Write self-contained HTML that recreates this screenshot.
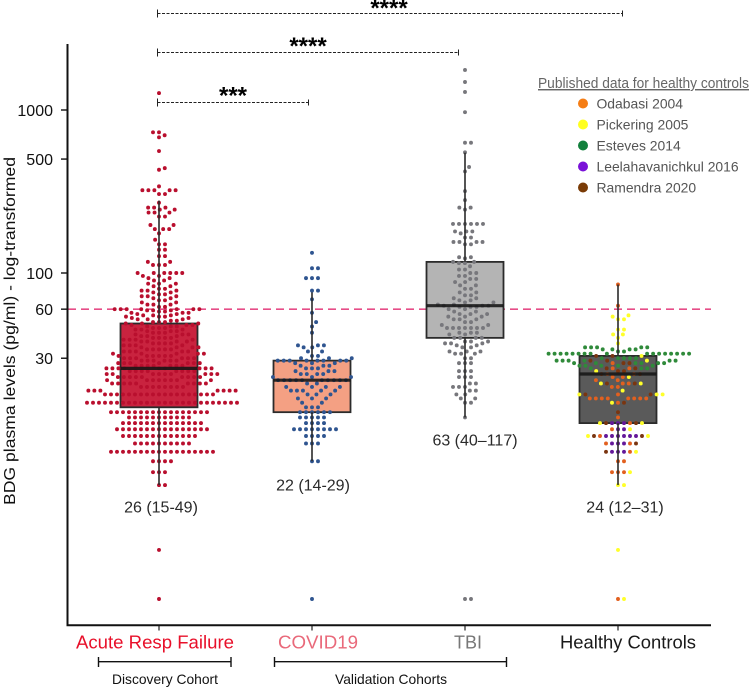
<!DOCTYPE html>
<html lang="en">
<head>
<meta charset="utf-8">
<title>BDG plasma levels by cohort</title>
<style>
html,body{margin:0;padding:0;background:#fff;width:750px;height:687px;overflow:hidden}
svg{display:block}
text{font-family:"Liberation Sans",Arial,sans-serif}
</style>
</head>
<body>
<svg id="chart" width="750" height="687" viewBox="0 0 750 687" xmlns="http://www.w3.org/2000/svg"></svg>
<script>
// ---- Data ----
const categories = ['Acute Resp Failure', 'COVID19', 'TBI', 'Healthy Controls'];
const categoryColors = ['#e8102a', '#e9697a', '#777777', '#1a1a1a'];
const summaryLabels = ['26 (15-49)', '22 (14-29)', '63 (40–117)', '24 (12–31)'];
const yTicks = [30, 60, 100, 500, 1000];
const thresholdValue = 60;

const boxQ1 = [15, 14, 40, 12];
const boxMedian = [26, 22, 63, 24];
const boxQ3 = [49, 29, 117, 31];
const whiskerLow = [5, 7, 13, 5];
const whiskerHigh = [278, 76, 547, 85];
const boxFills = ['#c9233f', '#f4a083', '#b4b4b4', '#5a5a5a'];

const arfLevels = [1,2,5,6,7,8,9,10,11,12,13,14,16,18,19,20,21,22,23,24,25,26,27,28,29,30,31,32,33,34,35,36,37,38,39,40,41,42,43,44,45,46,47,48,49,50,51,52,53,54,55,56,57,58,59,60,62,64,66,68,70,72,74,76,78,80,83,86,90,93,96,100,112,117,127,139,150,160,175,186,197,222,235,245,252,270,305,322,340,430,440,560,680,700,730,1270];
const arfCounts = [1,1,2,3,4,18,10,13,16,14,11,17,26,19,7,8,9,8,9,9,8,9,7,7,6,6,6,5,5,5,4,4,4,4,4,4,3,3,3,3,3,3,3,3,3,3,2,3,2,3,3,2,3,2,3,7,2,3,2,2,2,3,2,2,3,2,2,3,2,2,2,6,3,2,2,2,2,1,1,3,2,2,3,2,3,1,2,5,1,1,1,1,1,1,2,1];

const covidLevels = [1,7,9,10,11,12,13,14,15,16,17,18,19,20,21,22,23,24,25,26,27,28,29,30,31,33,35,36,43,47,50,57,69,78,93,107,133];
const covidCounts = [1,2,3,4,8,4,5,6,3,2,3,3,5,4,2,10,3,4,3,3,3,3,8,3,2,2,2,3,1,1,1,1,1,2,3,2,1];

const tbiLevels = [1,13,16,17,18,19,20,21,23,25,28,30,32,33,35,36,37,38,40,42,43,46,48,50,52,54,56,58,60,62,63,64,66,68,70,73,76,80,84,88,92,96,100,105,110,115,117,123,125,150,155,165,175,180,200,245,252,280,318,420,447,550,630,970,1290,1485,1760];
const tbiCounts = [2,1,2,2,2,2,3,2,3,3,3,2,3,3,2,2,3,3,4,2,3,7,2,2,3,3,3,2,2,3,3,2,2,2,2,2,2,2,2,2,2,2,2,2,1,2,2,1,2,2,4,2,1,3,6,1,2,1,1,1,1,1,2,1,1,1,1];

const leelahavanichkulLevels = [8,9,10,11,12];
const leelahavanichkulCounts = [3,3,6,2,3];
const odabasiLevels = [1,6,7,8,9,10,11,12,13,16,17,18,20,21,22,23,24,26,28,63,85];
const odabasiCounts = [1,3,2,1,2,1,1,1,1,1,8,1,2,2,2,2,2,2,1,1,1];
const estevesLevels = [26,27,28,29,30,32,33,34,35];
const estevesCounts = [3,5,6,6,5,17,2,4,5];
const ramendraLevels = [8,9,10,12,14,16,18,21,24,25,26,28,29,31];
const ramendraCounts = [1,1,2,2,1,1,2,2,2,2,2,2,2,2];
const pickeringLevels = [1,2,5,6,8,10,11,12,16,18,19,21,23,25,29,31,37,40,42,45,52,54,55];
const pickeringCounts = [1,1,2,1,1,2,1,2,1,3,1,2,1,1,1,1,1,1,2,2,2,1,1];

const legendTitle = 'Published data for healthy controls';
const legendLabels = ['Odabasi 2004', 'Pickering 2005', 'Esteves 2014', 'Leelahavanichkul 2016', 'Ramendra 2020'];
const legendColors = ['#f57d15', '#ffff1f', '#12803c', '#7a12d8', '#7a3b06'];

const sigLabels = ['***', '****', '****'];

// ---- Scales ----
function yScale(v) { return 110 + 163 * (3 - Math.log10(v)); }
function xBand(i) { return 159 + 153 * i; }

// ---- Helpers ----
const svg = document.getElementById('chart');
const NS = 'http://www.w3.org/2000/svg';
function mk(tag, attrs, parent) {
  const el = document.createElementNS(NS, tag);
  for (const k in attrs) el.setAttribute(k, attrs[k]);
  (parent || svg).appendChild(el);
  return el;
}
function expand(levels, counts, color, rank) {
  const out = [];
  levels.forEach(function (v, i) {
    for (let c = 0; c < counts[i]; c++) out.push({ v: v, color: color, rank: rank });
  });
  return out;
}
// Beeswarm placement computed from the values
function swarm(points) {
  const D = 6, MINDY = 4.6;
  const sorted = points.slice().sort(function (a, b) { return a.v - b.v || a.rank - b.rank; });
  const placed = [];
  sorted.forEach(function (p) {
    p.y = yScale(p.v);
    const near = placed.filter(function (q) { return Math.abs(q.y - p.y) < MINDY; });
    const cands = [0];
    near.forEach(function (q) {
      const dy = q.y - p.y;
      const dx = Math.sqrt(D * D - dy * dy);
      cands.push(q.off + dx, q.off - dx);
    });
    cands.sort(function (a, b) {
      const d = Math.abs(a) - Math.abs(b);
      return Math.abs(d) > 1e-6 ? d : b - a;
    });
    for (let i = 0; i < cands.length; i++) {
      const c = cands[i];
      const ok = near.every(function (q) {
        const dx = q.off - c, dy = q.y - p.y;
        return dx * dx + dy * dy >= D * D - 1e-6;
      });
      if (ok) { p.off = c; break; }
    }
    placed.push(p);
  });
  return placed;
}

// ---- Threshold line (behind) ----
const threshold = mk('line', { x1: 68, x2: 711, y1: yScale(thresholdValue), y2: yScale(thresholdValue), stroke: '#e64d88', 'stroke-width': 1.6, 'stroke-dasharray': '8 5' });



// ---- Groups ----
const groupPoints = [
  expand(arfLevels, arfCounts, '#b90f2e', 0),
  expand(covidLevels, covidCounts, '#2f5590', 0),
  expand(tbiLevels, tbiCounts, '#77777c', 0),
  [].concat(
    expand(leelahavanichkulLevels, leelahavanichkulCounts, '#64189a', 0),
    expand(odabasiLevels, odabasiCounts, '#e2601f', 1),
    expand(ramendraLevels, ramendraCounts, '#7a3510', 2),
    expand(pickeringLevels, pickeringCounts, '#ffff2a', 3),
    expand(estevesLevels, estevesCounts, '#2f8a3a', 4)
  )
];

categories.forEach(function (cat, i) {
  const cx = xBand(i);
  const top = yScale(boxQ3[i]), bot = yScale(boxQ1[i]);
  const box = mk('rect', { x: cx - 38.5, y: top, width: 77, height: bot - top, fill: boxFills[i], stroke: '#2b2b2b', 'stroke-width': 1.8 });
  
  

  const g = mk('g', {});
  
  
  swarm(groupPoints[i]).forEach(function (p) {
    const dot = mk('circle', { cx: cx + p.off, cy: p.y, r: 1.95, fill: p.color }, g);
    
    
  });

  const whiskerTop = mk('line', { x1: cx, x2: cx, y1: yScale(whiskerHigh[i]), y2: top, stroke: '#2b2b2b', 'stroke-width': 2, opacity: 0.8 });
  
  
  const whiskerBottom = mk('line', { x1: cx, x2: cx, y1: bot, y2: yScale(whiskerLow[i]), stroke: '#2b2b2b', 'stroke-width': 2, opacity: 0.8 });
  
  

  const med = mk('line', { x1: cx - 38.5, x2: cx + 38.5, y1: yScale(boxMedian[i]), y2: yScale(boxMedian[i]), stroke: '#161616', 'stroke-width': 3.2, opacity: 0.88 });
  
  

  // x tick
  const tick = mk('line', { x1: cx, x2: cx, y1: 625, y2: 630.5, stroke: '#222', 'stroke-width': 1.2 });
  
  
});

// ---- Axes ----
const yAxis = mk('line', { x1: 67.5, x2: 67.5, y1: 44, y2: 626, stroke: '#111', 'stroke-width': 2 });


const xAxis = mk('line', { x1: 66.5, x2: 711, y1: 625.3, y2: 625.3, stroke: '#111', 'stroke-width': 2 });



yTicks.forEach(function (t) {
  const y = yScale(t);
  const tk = mk('line', { x1: 61, x2: 67, y1: y, y2: y, stroke: '#111', 'stroke-width': 1.4 });
  
  
  const lb = mk('text', { x: 53, y: y + 5.8, 'text-anchor': 'end', 'font-size': 16, fill: '#111' });
  lb.textContent = String(t);
  
  
});

const yTitle = mk('text', { transform: 'translate(15,331) rotate(-90)', 'text-anchor': 'middle', 'font-size': 16, fill: '#111', textLength: 348, lengthAdjust: 'spacingAndGlyphs' });
yTitle.textContent = 'BDG plasma levels (pg/ml) - log-transformed';



// ---- Category labels ----
const catLabelCenters = [155, 318, 468, 628];
const catLabelWidths = [158, 80, 28, 136];
categories.forEach(function (cat, i) {
  const t = mk('text', { x: catLabelCenters[i], y: 648.5, 'text-anchor': 'middle', 'font-size': 18, fill: categoryColors[i], textLength: catLabelWidths[i], lengthAdjust: 'spacingAndGlyphs' });
  t.textContent = cat;
  
  
});

// ---- Summary labels ----
const summaryCenters = [161, 313, 475, 625];
const summaryY = [512.5, 490.5, 445.5, 512.5];
summaryLabels.forEach(function (s, i) {
  const t = mk('text', { x: summaryCenters[i], y: summaryY[i], 'text-anchor': 'middle', 'font-size': 16, fill: '#2a2a2a' });
  t.textContent = s;
  
  
});

// ---- Cohort brackets ----
function cohort(x1, x2, label, lx, lw, name) {
  const g = mk('g', {});
  
  
  mk('path', { d: 'M' + x1 + ' 657V667M' + x1 + ' 661.7H' + x2 + 'M' + x2 + ' 657V667', fill: 'none', stroke: '#111', 'stroke-width': 1.4 }, g);
  const t = mk('text', { x: lx, y: 684, 'text-anchor': 'middle', 'font-size': 14, fill: '#111', textLength: lw, lengthAdjust: 'spacingAndGlyphs' }, g);
  t.textContent = label;
}
cohort(98.5, 231, 'Discovery Cohort', 165, 106, 'discovery-cohort-bracket');
cohort(274.5, 506.5, 'Validation Cohorts', 391, 112, 'validation-cohorts-bracket');

// ---- Significance brackets ----
const sigEnds = [308.5, 458.5, 622.5];
const sigY = [102.5, 52.5, 13.5];
const sigStarX = [233, 308, 389];
const sigStarY = [103.5, 54, 16];
sigEnds.forEach(function (xEnd, i) {
  const g = mk('g', {});
  
  
  mk('line', { x1: 157.5, x2: xEnd, y1: sigY[i], y2: sigY[i], stroke: '#222', 'stroke-width': 1, 'stroke-dasharray': '3 1.5' }, g);
  mk('line', { x1: 157.5, x2: 157.5, y1: sigY[i] - 4, y2: sigY[i] + 4, stroke: '#222', 'stroke-width': 1 }, g);
  mk('line', { x1: xEnd, x2: xEnd, y1: sigY[i] - 3, y2: sigY[i] + 3, stroke: '#222', 'stroke-width': 1 }, g);
  const t = mk('text', { x: sigStarX[i], y: sigStarY[i], 'text-anchor': 'middle', 'font-size': 24, 'font-weight': 'bold', fill: '#000' }, g);
  t.textContent = sigLabels[i];
});

// ---- Legend ----
const legend = mk('g', {});


const lt = mk('text', { x: 538, y: 88, 'font-size': 14.5, fill: '#666', 'text-decoration': 'underline', textLength: 211, lengthAdjust: 'spacingAndGlyphs' }, legend);
lt.textContent = legendTitle;


legendLabels.forEach(function (label, i) {
  const y = 103.5 + 21 * i;
  const c = mk('circle', { cx: 583, cy: y, r: 5, fill: legendColors[i] }, legend);
  
  
  const t = mk('text', { x: 596.5, y: y + 5, 'font-size': 13.9, fill: '#555' }, legend);
  t.textContent = label;
  
  
});
</script>
</body>
</html>
